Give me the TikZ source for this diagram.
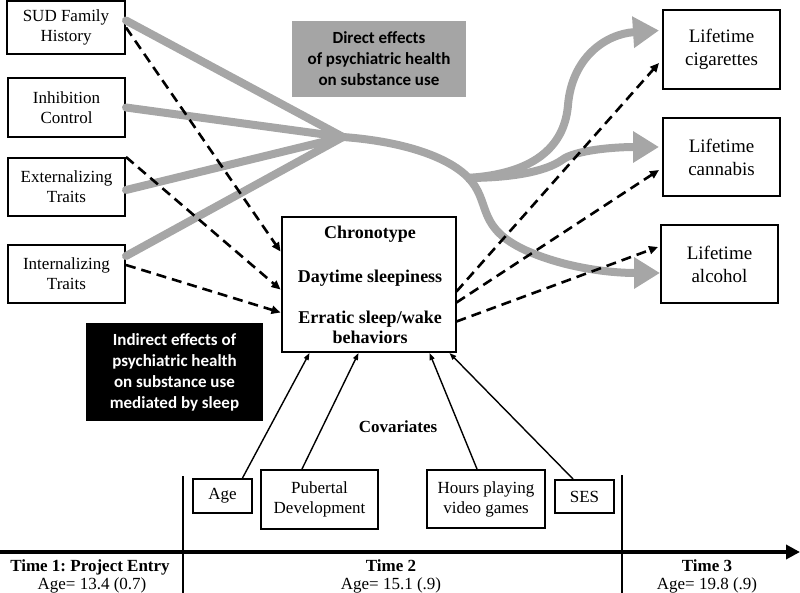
\documentclass[tikz,border=0pt]{standalone}
\usepackage{fontspec}
\setmainfont{Liberation Serif}
\newfontfamily\carl{Carlito}
\usetikzlibrary{arrows.meta}
\definecolor{streamgray}{HTML}{A6A6A6}
\definecolor{boxgray}{HTML}{A5A5A5}
\frenchspacing
\begin{document}
\begin{tikzpicture}[x=1pt,y=-1pt,
 box/.style={draw, line width=2pt, inner sep=0pt, align=center, font=\fontsize{17}{20}\selectfont},
 outbox/.style={box, font=\fontsize{19}{23}\selectfont},
 stream/.style={draw=streamgray, line width=8pt},
 streamarrow/.style={stream, -{Triangle[length=26pt,width=30pt]}},
 dasharrow/.style={draw, line width=2.6pt, dash pattern=on 10pt off 6pt, -{Triangle[length=9pt,width=8pt]}},
 covarrow/.style={draw, line width=1.4pt, -{Triangle[length=7pt,width=5pt]}},
 chtext/.style={anchor=base, font=\bfseries\fontsize{18}{20}\selectfont},
 timetext/.style={anchor=base, font=\fontsize{17}{19}\selectfont},
]
\useasboundingbox (0,0) rectangle (800,593);

% left boxes
\node[box, minimum width=118pt, minimum height=53pt] (sud) at (66,27.5) {SUD Family\\History};
\node[box, minimum width=117pt, minimum height=59pt] (inh) at (66.5,107.5) {Inhibition\\Control};
\node[box, minimum width=117pt, minimum height=58pt] (ext) at (66.5,187) {Externalizing\\Traits};
\node[box, minimum width=117pt, minimum height=58pt] (int) at (66.5,274) {Internalizing\\Traits};

% right boxes
\node[outbox, minimum width=117pt, minimum height=79pt] (cig) at (721.5,49.5) {Lifetime\\cigarettes};
\node[outbox, minimum width=117pt, minimum height=78pt] (can) at (721.5,157) {Lifetime\\cannabis};
\node[outbox, minimum width=117pt, minimum height=78pt] (alc) at (719.5,264) {Lifetime\\alcohol};

% centre box
\node[draw, line width=2pt, minimum width=174pt, minimum height=135pt, inner sep=0pt] (chrono) at (368.5,284.5) {};
\node[chtext] (t1) at (370,239) {Chronotype};
\node[chtext] (t2) at (370,283) {Daytime sleepiness};
\node[chtext] (t3) at (370,324) {Erratic sleep/wake};
\node[chtext] (t4) at (370,344) {behaviors};

% labels
\node[fill=boxgray, minimum width=174pt, minimum height=76pt, inner sep=0pt, align=center,
      font=\carl\bfseries\fontsize{17}{21}\selectfont] (direct) at (379,59)
      {Direct effects\\of psychiatric health\\on substance use};
\node[fill=black, text=white, minimum width=177pt, minimum height=98pt, inner sep=0pt, align=center,
      font=\carl\bfseries\fontsize{17}{21}\selectfont] (indirect) at (174.5,372)
      {Indirect effects of\\psychiatric health\\on substance use\\mediated by sleep};
\node[font=\bfseries\fontsize{17}{19}\selectfont] (covlab) at (398,427) {Covariates};

% covariate boxes
\node[box, minimum width=59pt, minimum height=34pt] (age) at (222.5,496) {Age};
\node[box, minimum width=117pt, minimum height=59pt] (pub) at (319.5,499.5) {Pubertal\\Development};
\node[box, minimum width=118pt, minimum height=58pt] (hrs) at (486,499) {Hours playing\\video games};
\node[box, minimum width=59pt, minimum height=33pt] (ses) at (584.5,496.5) {SES};

% gray streams
\coordinate (hub) at (343,137);
\coordinate (split) at (466,178);
\draw[stream, line cap=round] ([yshift=7pt]sud.east) -- (hub);
\draw[stream, line cap=round] (inh.east) -- (hub);
\draw[stream, line cap=round] ([yshift=-3pt]ext.east) -- (hub);
\draw[stream, line cap=round] ([yshift=18pt]int.east) -- (hub);
\draw[streamarrow] (hub) .. controls (410,142) and (455,160) .. (472,182)
   .. controls (490,205) and (478,228) .. (525,250)
   .. controls (565,268) and (610,273) .. ([yshift=-9pt]alc.west);
\draw[streamarrow] (split) .. controls (540,174) and (565,142) .. (568,105)
   .. controls (572,58) and (605,34) .. ([xshift=-3pt,yshift=19pt]cig.west);
\draw[streamarrow] (split) .. controls (510,178) and (545,172) .. (562,160)
   .. controls (575,150) and (615,147) .. ([xshift=-3pt,yshift=10pt]can.west);

% dashed arrows
\draw[dasharrow] (sud.east) -- ([yshift=33pt]chrono.west);
\draw[dasharrow] (ext.north east) -- ([yshift=-5pt]chrono.west);
\draw[dasharrow] ([yshift=9pt]int.east) -- ([yshift=-28pt]chrono.west);
\draw[dasharrow] ([yshift=-7pt]chrono.east) -- ([xshift=-3pt,yshift=-13.5pt]cig.west);
\draw[dasharrow] ([yshift=-18pt]chrono.east) -- ([xshift=-3pt,yshift=-13pt]can.west);
\draw[dasharrow] ([yshift=-37pt]chrono.east) -- ([xshift=-2pt,yshift=17pt]alc.west);

% covariate arrows
\draw[covarrow] ([xshift=20pt]age.north) -- ([xshift=-59pt]chrono.south);
\draw[covarrow] ([xshift=-17.5pt]pub.north) -- ([xshift=-10pt]chrono.south);
\draw[covarrow] ([xshift=-9pt]hrs.north) -- ([xshift=61pt]chrono.south);
\draw[covarrow] ([xshift=-11.5pt]ses.north) -- ([xshift=81pt]chrono.south);

% timeline
\coordinate (tlstart) at (0,552);
\coordinate (tlend) at (800,552);
\draw[line width=4pt, -{Triangle[length=14pt,width=14pt]}] (tlstart) -- (tlend);
\draw[line width=1.5pt] (183,476) -- (183,593);
\draw[line width=1.5pt] (622,475) -- (622,593);
\node[timetext, font=\bfseries\fontsize{17}{19}\selectfont] (time1) at (90,571) {Time 1: Project Entry};
\node[timetext] (age1) at (92,589) {Age= 13.4 (0.7)};
\node[timetext, font=\bfseries\fontsize{17}{19}\selectfont] (time2) at (391,571) {Time 2};
\node[timetext] (age2) at (391,589) {Age= 15.1 (.9)};
\node[timetext, font=\bfseries\fontsize{17}{19}\selectfont] (time3) at (707,571) {Time 3};
\node[timetext] (age3) at (707,589) {Age= 19.8 (.9)};
\end{tikzpicture}
\end{document}
